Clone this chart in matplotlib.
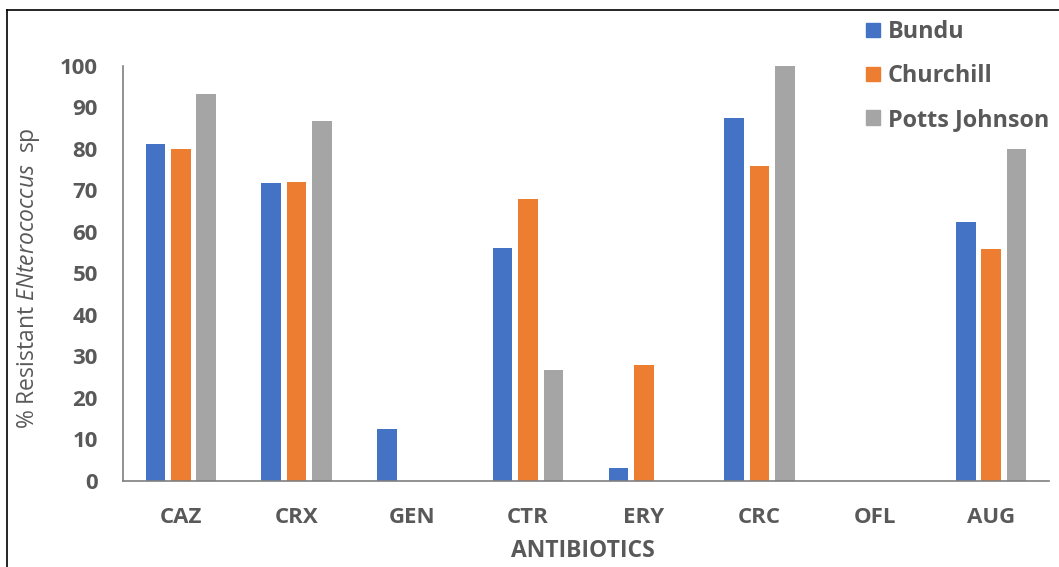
import matplotlib.pyplot as plt
import numpy as np
from matplotlib.lines import Line2D
from matplotlib.patches import Patch

antibiotics = ["CAZ", "CRX", "GEN", "CTR", "ERY", "CRC", "OFL", "AUG"]
bundu = [81.25, 71.9, 12.5, 56.25, 3.1, 87.5, 0, 62.5]
churchill = [80, 72, 0, 68, 28, 76, 0, 56]
potts_johnson = [93.3, 86.7, 0, 26.7, 0, 100, 0, 80]

series = [
    ("Bundu", bundu, "#4472C4"),
    ("Churchill", churchill, "#ED7D31"),
    ("Potts Johnson", potts_johnson, "#A5A5A5"),
]

text_color = "#595959"
plt.rcParams["font.family"] = ["Open Sans", "DejaVu Sans"]
plt.rcParams["mathtext.fontset"] = "custom"
plt.rcParams["mathtext.rm"] = "Open Sans"
plt.rcParams["mathtext.it"] = "Open Sans:italic"

fig = plt.figure(figsize=(10.59, 5.67), dpi=100)
ax = fig.add_axes([0.1161, 0.1517, 0.8745, 0.7319])

x = np.arange(len(antibiotics))
width, step = 0.17, 0.22
for i, (name, vals, color) in enumerate(series):
    ax.bar(x + (i - 1) * step, vals, width, color=color, label=name)

ax.set_xlim(-0.5, len(antibiotics) - 0.5)
ax.set_ylim(0, 100)
ax.set_yticks(range(0, 101, 10))
ax.set_xticks(x)
ax.set_xticklabels(antibiotics)

for side in ("top", "right"):
    ax.spines[side].set_visible(False)
for side in ("left", "bottom"):
    ax.spines[side].set_color("#7f7f7f")
    ax.spines[side].set_linewidth(1.2)

ax.tick_params(axis="both", length=0, colors=text_color, labelsize=16)
ax.tick_params(axis="x", pad=19)
ax.tick_params(axis="y", pad=18)
for lbl in ax.get_xticklabels() + ax.get_yticklabels():
    lbl.set_fontweight("bold")

# y label with italic genus name
fig.text(29 / 1059, 1 - 278 / 567, r"% Resistant $\it{ENterococcus}$  sp",
         color=text_color, fontsize=16.5, rotation=90, ha="center", va="center")
fig.text(583 / 1059, 1 - 551 / 567, "ANTIBIOTICS", color=text_color, fontsize=16.5,
         fontweight="bold", ha="center", va="center")

handles = [Patch(color=c, label=n) for n, _, c in series]
leg = fig.legend(handles=handles, loc="upper left", bbox_to_anchor=(0.802, 0.993),
                 frameon=False, handlelength=0.6, handleheight=0.6,
                 handletextpad=0.35, labelspacing=0.85, fontsize=16.8,
                 borderpad=0.2)
for t in leg.get_texts():
    t.set_color(text_color)
    t.set_fontweight("bold")

# border of the original figure (top and left edges)
fig.add_artist(Line2D([7 / 1059, 1.0], [1 - 10 / 567] * 2, color="black", lw=1.2))
fig.add_artist(Line2D([7 / 1059] * 2, [0.0, 1 - 10 / 567], color="black", lw=1.2))

fig.savefig("out.png", dpi=100)
